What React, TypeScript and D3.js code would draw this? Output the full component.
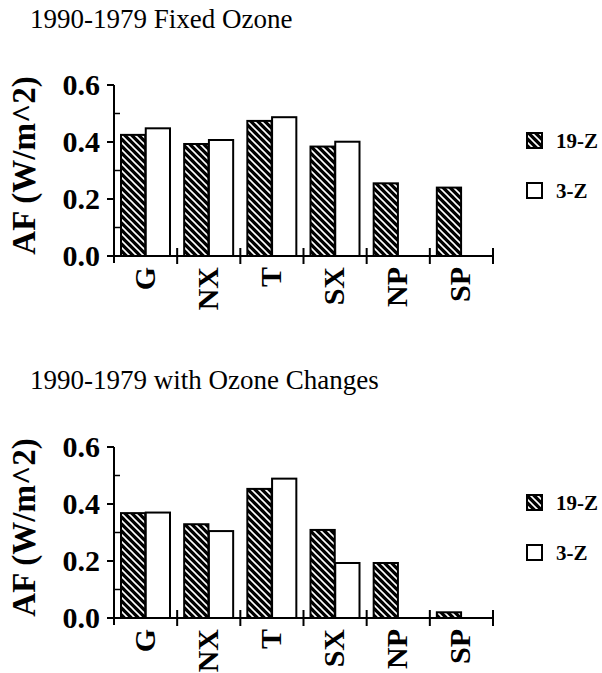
import React from "react";
import * as d3 from "d3";

// Regions along the x axis
const categories = ["G", "NX", "T", "SX", "NP", "SP"];
const seriesNames = ["19-Z", "3-Z"];

// Adjusted forcing, 1990 minus 1979, W/m^2
const fixedOzone19Z = [0.425, 0.393, 0.474, 0.384, 0.255, 0.24];
const fixedOzone3Z: (number | null)[] = [0.448, 0.407, 0.487, 0.401, null, null];
const ozoneChanges19Z = [0.368, 0.329, 0.453, 0.309, 0.193, 0.02];
const ozoneChanges3Z: (number | null)[] = [0.37, 0.305, 0.489, 0.193, null, null];

const majorTicks = [0, 0.2, 0.4, 0.6];
const minorTicks = [0.1, 0.3, 0.5];

const panels = [
  { title: "1990-1979 Fixed Ozone", titleY: 28, top: 85, a: fixedOzone19Z, b: fixedOzone3Z },
  { title: "1990-1979 with Ozone Changes", titleY: 389, top: 447, a: ozoneChanges19Z, b: ozoneChanges3Z },
];

const W = 602;
const H = 673;
const axisX = 114;
const axisRight = 493;
const plotH = 171;
const FONT = '"Liberation Serif", "Times New Roman", serif';
const serif = { fontFamily: FONT };

function Panel({ p }: { p: (typeof panels)[number] }) {
  const y = d3.scaleLinear().domain([0, 0.6]).range([p.top + plotH, p.top]);
  const x = d3.scaleBand<string>().domain(categories).range([axisX, axisRight]);
  const inner = d3.scaleBand<string>().domain(seriesNames).range([7, 56]).paddingInner(0.02);
  const y0 = y(0);
  const bars: { cat: string; s: string; v: number }[] = [];
  categories.forEach((c, i) => {
    bars.push({ cat: c, s: "19-Z", v: p.a[i] });
    const bv = p.b[i];
    if (bv != null) bars.push({ cat: c, s: "3-Z", v: bv });
  });
  const bounds = [...categories.map((c) => x(c)!), axisRight];
  return (
    <g>
      <text x={30} y={p.titleY} fontSize={27} style={serif}>
        {p.title}
      </text>
      {/* bars */}
      {bars.map((d, i) => (
        <rect
          key={i}
          x={x(d.cat)! + inner(d.s)!}
          y={y(d.v)}
          width={inner.bandwidth()}
          height={y0 - y(d.v)}
          fill={d.s === "19-Z" ? "url(#hatch)" : "#fff"}
          stroke="#000"
          strokeWidth={2}
        />
      ))}
      {/* y axis */}
      <line x1={axisX} x2={axisX} y1={y(0.6)} y2={y0 + 7} stroke="#000" strokeWidth={2} />
      {majorTicks.map((t) => (
        <g key={t}>
          <line x1={axisX - 7} x2={axisX} y1={y(t)} y2={y(t)} stroke="#000" strokeWidth={2} />
          <text x={100} y={y(t)} dy="0.34em" textAnchor="end" fontSize={30} fontWeight="bold" style={serif}>
            {d3.format(".1f")(t)}
          </text>
        </g>
      ))}
      {minorTicks.map((t) => (
        <line key={t} x1={axisX} x2={axisX + 6} y1={y(t)} y2={y(t)} stroke="#000" strokeWidth={1.5} />
      ))}
      <text
        transform={`translate(35, ${p.top + plotH / 2 - 5}) rotate(-90)`}
        textAnchor="middle"
        fontSize={33}
        fontWeight="bold"
        style={serif}
      >
        AF (W/m^2)
      </text>
      {/* x axis */}
      <line x1={axisX} x2={axisRight} y1={y0} y2={y0} stroke="#000" strokeWidth={2} />
      {bounds.slice(1).map((bx, i) => (
        <line key={i} x1={bx} x2={bx} y1={y0 - 8} y2={y0 + 8} stroke="#000" strokeWidth={2} />
      ))}
      {categories.map((c) => (
        <text
          key={c}
          transform={`translate(${x(c)! + x.bandwidth() / 2 + 9}, ${y0 + 11}) rotate(-90)`}
          textAnchor="end"
          fontSize={30}
          fontWeight="bold"
          style={serif}
        >
          {c}
        </text>
      ))}
      {/* legend */}
      {seriesNames.map((s, i) => (
        <g key={s}>
          <rect
            x={527}
            y={p.top + 48 + i * 50}
            width={15}
            height={15}
            fill={s === "19-Z" ? "url(#hatch)" : "#fff"}
            stroke="#000"
            strokeWidth={2}
          />
          <text x={556} y={p.top + 63 + i * 50} fontSize={21} fontWeight="bold" style={serif}>
            {s}
          </text>
        </g>
      ))}
    </g>
  );
}

export default function App() {
  return (
    <svg
      width={W}
      height={H}
      viewBox={`0 0 ${W} ${H}`}
      style={{ position: "absolute", left: 0, top: 0, background: "#fff" }}
    >
      <defs>
        <pattern id="hatch" patternUnits="userSpaceOnUse" width={7} height={7}>
          <rect width={7} height={7} fill="#000" />
          <path d="M0,0 L7,7 M-1,6 L1,8 M6,-1 L8,1" stroke="#fff" strokeWidth={1.6} />
        </pattern>
      </defs>
      <rect width={W} height={H} fill="#fff" />
      {panels.map((p, i) => (
        <Panel key={i} p={p} />
      ))}
    </svg>
  );
}
